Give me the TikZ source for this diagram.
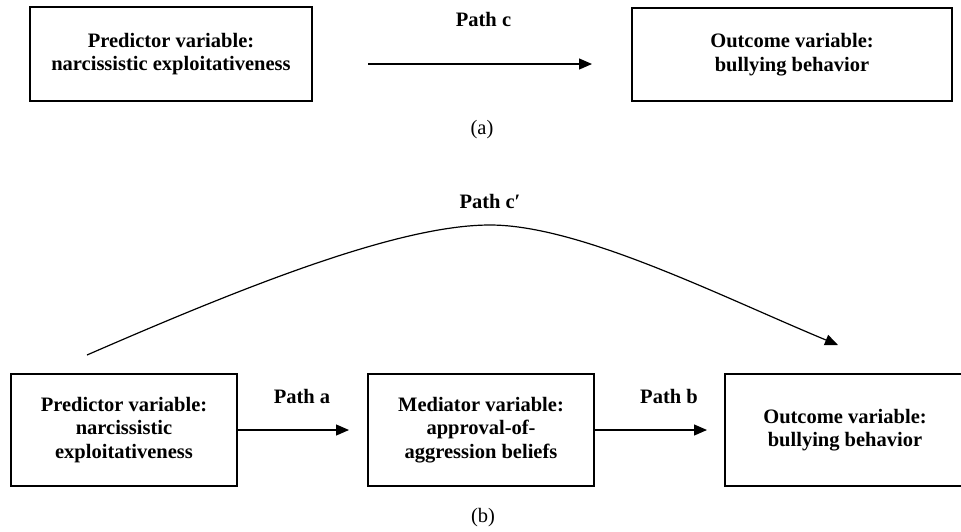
\documentclass[tikz,border=0pt]{standalone}
\usepackage{fontspec}
\setmainfont{Liberation Serif}
\usetikzlibrary{arrows.meta,positioning}
\tikzstyle{var}=[draw,line width=1.2pt,align=center,inner sep=0pt,font=\fontsize{20.5}{23.5}\selectfont\bfseries]
\tikzstyle{pathlbl}=[inner sep=0pt,font=\fontsize{20.5}{23.5}\selectfont\bfseries]
\tikzstyle{panel}=[inner sep=0pt,font=\fontsize{20.5}{23.5}\selectfont]
\tikzstyle{arr}=[line width=1.2pt,-{Triangle[length=13pt,width=11pt]}]

\begin{document}
\begin{tikzpicture}[x=1pt,y=-1pt]
	\clip (0,0) rectangle (961,531);
	% (a) direct effect
	\node[var,minimum width=282pt,minimum height=94pt] (predA) at (171,54) {Predictor variable:\\narcissistic exploitativeness};
	\node[var,minimum width=320pt,minimum height=93pt] (outA) at (792,54.5) {Outcome variable:\\bullying behavior};
	\coordinate (cstart) at (368,64);
	\coordinate (cend) at (592,64);
	\draw[arr] (cstart)--(cend);
	\node[pathlbl] (labc) at (483.5,19.5) {Path c};
	\node[panel] (panA) at (482,130) {(a)};

	% (b) mediation
	\node[var,minimum width=226pt,minimum height=112pt] (predB) at (124,430) {Predictor variable:\\narcissistic\\exploitativeness};
	\node[var,minimum width=226pt,minimum height=112pt] (medB) at (481,430) {Mediator variable:\\approval-of-\\aggression beliefs};
	\node[var,minimum width=240pt,minimum height=112pt] (outB) at (845,430) {Outcome variable:\\bullying behavior};
	\coordinate (aend) at (349,430);
	\coordinate (bend) at (707,430);
	\draw[arr] (predB.east)--(aend);
	\draw[arr] (medB.east)--(bend);
	\node[pathlbl] (laba) at (302,396) {Path a};
	\node[pathlbl] (labb) at (669,396) {Path b};

	\coordinate (cpstart) at (87,355);
	\coordinate (cptop) at (490,225);
	\coordinate (cpend) at (838,345);
	\draw[arr] (cpstart) .. controls (250,284) and (400,225) .. (cptop)
		.. controls (580,225) and (720,296) .. (cpend);
	\node[pathlbl] (labcp) at (490,201.5) {Path c′};
	\node[panel] (panB) at (483,518) {(b)};
\end{tikzpicture}
\end{document}
